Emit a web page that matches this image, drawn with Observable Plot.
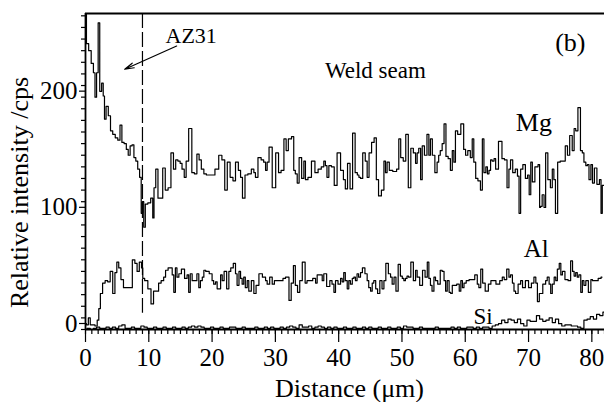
<!DOCTYPE html>
<html><head><meta charset="utf-8">
<script src="https://cdn.jsdelivr.net/npm/d3@7"></script>
<script src="https://cdn.jsdelivr.net/npm/@observablehq/plot@0.6"></script>
<style>
html,body{margin:0;padding:0;background:#fff;}
#chart svg{display:block;}
#chart svg text{font-family:"Liberation Serif","Times New Roman",serif !important;}
</style></head><body><div id="chart"></div>
<script>
// ---- data ----
const mgX = [0.0,0.3,0.7,1.1,1.4,1.6,1.9,2.1,2.4,2.7,2.9,3.1,3.4,3.8,4.1,4.5,4.9,5.3,5.6,5.9,6.3,6.6,6.9,7.2,7.5,7.8,8.1,8.4,8.7,8.9,9.1,9.3,9.6,10.1,10.5,10.75,10.9,11.3,11.6,12.0,12.4,12.8,13.3,13.7,14.1,14.4,14.8,15.1,15.4,15.8,16.0,16.6,17.0,17.4,17.8,18.1,18.5,18.9,19.3,20.1,20.8,21.3,21.8,22.2,22.6,23.1,23.5,23.9,24.4,24.6,25.0,25.4,25.9,26.5,26.7,27.0,27.5,28.0,28.3,28.6,28.8,29.2,29.8,30.3,30.7,31.1,31.6,31.8,32.3,32.8,33.0,33.3,33.6,33.9,34.4,34.6,34.9,35.4,36.0,36.5,37.0,37.5,37.8,38.0,38.3,38.6,39.1,39.5,40.0,40.6,40.9,41.2,41.6,42.0,42.4,42.8,43.1,43.3,43.6,44.0,44.4,44.6,45.0,45.4,45.8,46.1,46.5,47.0,47.3,47.5,47.8,48.2,48.9,49.4,49.6,50.0,50.4,50.8,51.2,51.6,52.0,52.3,52.5,52.8,53.1,53.3,53.8,54.1,54.4,54.6,55.0,55.4,55.7,55.9,56.2,56.5,56.8,57.1,57.5,57.8,58.1,58.3,58.6,59.0,59.6,59.9,60.2,60.6,61.0,61.2,61.5,61.8,62.2,62.6,62.8,63.1,63.4,63.6,63.9,64.1,64.4,64.7,64.9,65.6,66.0,66.4,66.8,67.0,67.3,67.7,68.1,68.4,68.6,68.9,69.3,69.7,70.0,70.2,70.5,70.7,71.3,71.7,71.8,72.0,72.3,72.6,72.8,73.3,73.6,73.9,74.1,74.4,74.8,75.2,75.6,76.0,76.3,76.7,77.1,77.3,77.6,78.0,78.4,78.6,78.9,79.2,79.4,79.7,80.0,80.2,80.6,81.0,81.4,81.5,81.8,82.0];
const mgY = [300,246,240,229,221,200,221,264,205,212,201,181,192,184,171,168,165,163,176,161,160,155,150,158,159,148,145,138,131,100,110,88,108,109,113,96,122,138,113,113,139,120,122,152,138,146,145,143,138,131,145,173,135,134,151,146,138,134,133,133,138,150,146,120,144,131,128,144,137,131,113,133,134,138,135,131,148,146,144,137,144,157,122,152,135,137,164,154,164,166,137,134,126,148,130,145,129,131,145,135,138,140,145,141,131,141,140,124,152,137,129,121,143,121,169,135,133,131,130,152,145,131,152,161,165,129,115,120,145,135,144,137,136,138,164,148,145,168,122,156,152,143,152,156,129,158,150,168,150,164,150,135,144,150,154,160,177,149,147,137,154,144,171,168,177,155,150,154,148,164,144,130,128,120,164,135,140,134,137,146,145,147,138,162,147,146,122,138,146,135,138,132,100,138,142,130,133,116,144,127,140,142,105,106,116,105,152,129,122,138,129,100,144,145,145,158,150,167,154,173,171,191,154,152,144,141,142,129,142,126,139,125,129,100,124,124];

const alX = [0.0,0.3,0.6,0.9,1.3,1.7,2.0,2.2,2.5,2.9,3.3,3.7,4.1,4.5,4.8,5.1,5.4,5.8,6.2,6.7,7.2,7.6,8.0,8.3,8.7,9.0,9.1,9.6,10.1,10.6,10.9,11.4,11.7,12.2,12.5,12.8,13.3,13.6,13.8,14.1,14.3,14.6,14.9,15.4,15.9,16.2,16.4,16.7,17.0,17.4,17.8,18.0,18.3,18.6,18.8,19.2,19.9,20.1,20.4,20.7,20.9,21.2,21.5,21.7,22.1,22.5,22.8,23.1,23.6,23.8,24.1,24.4,24.6,24.9,25.1,25.4,25.7,25.9,26.5,26.7,27.2,27.6,28.3,28.6,28.8,29.4,29.6,30.1,30.9,31.5,31.7,32.0,32.3,32.7,33.0,33.3,33.7,34.0,34.5,34.9,35.1,35.6,36.2,36.5,36.7,37.3,37.5,37.8,38.4,38.8,39.1,39.4,39.6,40.2,40.4,40.7,40.9,41.2,41.5,41.7,42.0,42.3,42.5,42.8,43.0,43.3,43.6,43.9,44.4,44.6,44.9,45.2,45.4,45.7,46.0,46.3,46.7,47.0,47.3,47.6,48.1,48.3,48.6,48.9,49.2,49.6,49.9,50.2,50.4,50.7,50.9,51.2,51.6,52.0,52.3,52.5,53.1,53.4,53.9,54.1,54.4,54.6,54.9,55.2,55.4,55.9,56.2,56.5,56.8,57.0,57.3,57.6,57.8,58.1,58.4,58.9,59.2,59.4,59.7,59.9,60.4,60.8,61.2,61.8,62.0,62.3,62.6,62.9,63.4,63.9,64.2,64.7,65.0,65.2,65.7,66.0,66.3,66.8,67.0,67.3,67.6,67.8,68.1,68.6,68.9,69.2,69.8,70.2,70.7,71.0,71.3,71.5,71.9,72.6,72.8,73.1,73.4,73.6,73.9,74.2,74.4,74.7,75.0,75.2,75.5,76.0,76.5,76.8,77.1,77.3,77.6,77.8,78.1,78.4,78.6,78.9,79.2,79.7,80.0,80.2,80.7,81.3,81.6,82.0];
const alY = [5,4,10,4,4,3,8,18,31,40,42,41,50,31,49,58,53,43,36,36,36,60,57,50,58,53,44,42,35,22,33,33,40,42,45,51,53,53,47,32,53,45,48,52,44,47,32,48,42,42,48,36,42,45,51,50,48,42,39,41,35,35,47,42,50,35,50,53,57,48,38,50,44,39,45,36,42,33,42,31,38,48,45,42,39,45,39,42,42,44,45,45,25,40,55,38,32,42,58,40,42,42,44,40,47,47,42,48,37,42,39,32,42,39,44,41,49,42,35,42,39,44,45,42,48,45,49,53,48,42,36,33,40,42,35,31,42,35,42,57,48,45,39,45,33,56,46,44,42,44,46,45,58,42,51,45,38,51,45,58,44,38,33,45,42,39,51,50,42,33,42,32,31,38,38,39,33,42,36,40,42,43,43,47,39,36,52,40,33,39,42,42,39,39,42,45,43,52,45,47,40,33,31,39,42,36,42,36,40,45,40,24,31,39,42,45,39,31,39,45,42,52,57,47,50,43,42,59,50,46,49,45,47,32,42,38,42,32,43,42,42,44,45];

const siX = [0,0.5,1,1.5,2,2.5,3,3.5,4,4.5,5,5.5,6,6.5,7,7.5,8,8.5,9,9.5,10,10.5,11,11.5,12,12.5,13,13.5,14,14.5,15,15.5,16,16.5,17,17.5,18,18.5,19,19.5,20,20.5,21,21.5,22,22.5,23,23.5,24,24.5,25,25.5,26,26.5,27,27.5,28,28.5,29,29.5,30,30.5,31,31.5,32,32.5,33,33.5,34,34.5,35,35.5,36,36.5,37,37.5,38,38.5,39,39.5,40,40.5,41,41.5,42,42.5,43,43.5,44,44.5,45,45.5,46,46.5,47,47.5,48,48.5,49,49.5,50,50.5,51,51.5,52,52.5,53,53.5,54,54.5,55,55.5,56,56.5,57,57.5,58,58.5,59,59.5,60,60.5,61,61.5,62,62.5,63,63.5,64,64.5,65,65.5,66,66.5,67,67.5,68,68.5,69,69.5,70,70.5,71,71.5,72,72.5,73,73.5,74,74.5,75,75.5,76,76.5,77,77.5,78,78.5,79,79.5,80,80.5,81,81.5,82];
const siY = [0,1,0,1,2,1,1,2,1,2,1,3,4,1,1,2,1,1,3,2,1,1,2,1,1,2,1,1,2,1,1,2,1,2,3,2,3,2,1,1,2,1,1,2,1,1,2,2,1,1,2,1,1,1,2,1,1,2,1,2,1,1,2,1,2,3,2,1,4,2,2,3,1,2,3,2,1,2,1,2,1,1,2,1,1,2,1,1,2,1,2,1,1,2,1,1,2,1,1,2,1,3,2,2,1,1,2,1,1,1,1,2,1,1,1,1,2,1,2,1,1,2,2,1,2,1,2,2,1,3,4,5,8,6,9,8,6,9,5,3,8,7,7,12,9,7,8,10,6,9,5,3,4,4,3,3,2,1,8,9,11,9,13,12,15];

const xTicks = [0,10,20,30,40,50,60,70,80];
const yTicks = [0,100,200];
const labels = [
  {x: 16.7, y: 253, text: "AZ31", size: 22},
  {x: 76.6, y: 247, text: "(b)", size: 26},
  {x: 45.8, y: 222.4, text: "Weld seam", size: 23},
  {x: 70.85, y: 178.4, text: "Mg", size: 26},
  {x: 71.2, y: 69.1, text: "Al", size: 25},
  {x: 62.8, y: 10.9, text: "Si", size: 23}
];
const arrows = [{x1: 14.4, y1: 244, x2: 6.2, y2: 224}];
const boundaryX = [9.0];

// ---- build ----
const rows = [
  ...mgX.map((x, i) => ({el: "Mg", x, y: mgY[i]})),
  ...alX.map((x, i) => ({el: "Al", x, y: alY[i]})),
  ...siX.map((x, i) => ({el: "Si", x, y: siY[i]}))
];
const xMinor = d3.range(0, 83, 1);
const yMinor = d3.range(0, 271, 10);
const font = "Liberation Serif";

const chart = Plot.plot({
  width: 604, height: 402,
  marginLeft: 85, marginRight: 0, marginTop: 13, marginBottom: 73,
  x: {domain: [0, 82], label: null},
  y: {domain: [0, 272], label: null},
  style: {fontFamily: font, color: "#000", background: "#fff", overflow: "visible"},
  marks: [
    Plot.axisX(xMinor, {tickSize: 5, tickFormat: () => "", strokeWidth: 1.2, label: null}),
    Plot.axisX(xTicks, {tickSize: 13, tickPadding: 6, fontSize: 25, fontFamily: font, strokeWidth: 1.2, label: null}),
    Plot.axisY(yMinor, {tickSize: 4, tickFormat: () => "", strokeWidth: 1.2, label: null}),
    Plot.axisY(yTicks, {tickSize: 6, tickPadding: 2, fontSize: 25, fontFamily: font, dy: -6, strokeWidth: 1.2, label: null}),
    Plot.ruleY([0], {strokeWidth: 1.8}),
    Plot.ruleY([272], {strokeWidth: 1.8}),
    Plot.ruleX([0], {strokeWidth: 1.8}),
    Plot.ruleX(boundaryX, {y1: 272, y2: 14, strokeWidth: 1.2, strokeDasharray: "15,4"}),
    Plot.line(rows, {x: "x", y: "y", z: "el", curve: "step", stroke: "#000", strokeWidth: 1.2, clip: true}),
    Plot.arrow(arrows, {x1: "x1", y1: "y1", x2: "x2", y2: "y2", stroke: "#000", strokeWidth: 1.2, headLength: 12, headAngle: 30}),
    Plot.text(labels, {x: "x", y: "y", text: "text", fontSize: "size", fontFamily: font, fill: "#000"}),
    Plot.text(["Relative intensity /cps"], {frameAnchor: "left", textAnchor: "middle", lineAnchor: "middle", rotate: -90, dx: -66, dy: 21, fontSize: 26, fontFamily: font, fill: "#000"}),
    Plot.text(["Distance (μm)"], {frameAnchor: "bottom", textAnchor: "middle", lineAnchor: "middle", dx: 4.5, dy: 59, fontSize: 26, fontFamily: font, fill: "#000"})
  ]
});
document.getElementById("chart").appendChild(chart);
</script></body></html>
